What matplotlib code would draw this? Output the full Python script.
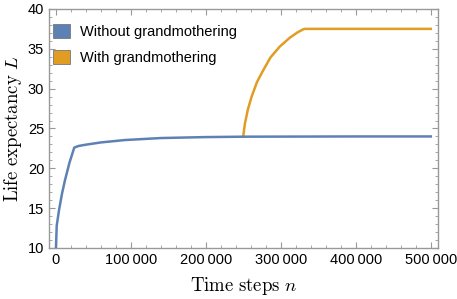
import matplotlib
matplotlib.use("Agg")
import matplotlib.pyplot as plt
from matplotlib.patches import Patch
from matplotlib.ticker import MultipleLocator, FuncFormatter

# values
steps_without = [0, 1000, 4000, 8000, 12000, 18000, 24400, 30000, 38700, 60000, 92000,
                 140000, 200000, 250000, 300000, 400000, 500000]
life_without = [10.0, 12.8, 14.7, 16.8, 18.5, 20.7, 22.6, 22.8, 22.95, 23.25, 23.55,
                23.8, 23.92, 23.97, 23.98, 24.0, 24.0]

steps_with = [249700, 252000, 256000, 261000, 268000, 276400, 286000, 298700, 312000,
              322000, 329800, 332000, 400000, 500000]
life_with = [23.97, 25.6, 27.4, 29.0, 30.8, 32.3, 33.9, 35.3, 36.4, 37.05, 37.45,
             37.5, 37.5, 37.5]

series_labels = ["Without grandmothering", "With grandmothering"]
colors = ["#5E81B5", "#E19C24"]

plt.rcParams["mathtext.fontset"] = "cm"

fig = plt.figure(figsize=(4.57, 2.99), dpi=100)
ax = fig.add_axes([0.1072, 0.1706, 0.8508, 0.7994])

ax.plot(steps_without, life_without, color=colors[0], lw=1.8, zorder=3)
ax.plot(steps_with, life_with, color=colors[1], lw=1.8, zorder=2)

ax.set_xlim(-9300, 509300)
ax.set_ylim(10, 40)

ax.xaxis.set_major_locator(MultipleLocator(100000))
ax.xaxis.set_minor_locator(MultipleLocator(20000))
ax.yaxis.set_major_locator(MultipleLocator(5))
ax.yaxis.set_minor_locator(MultipleLocator(1))
ax.xaxis.set_major_formatter(FuncFormatter(
    lambda v, p: f"{int(v):,}".replace(",", "\u2009")))

for s in ax.spines.values():
    s.set_color("#999999")
    s.set_linewidth(1.0)
ax.tick_params(which="both", direction="in", top=True, right=True, colors="#999999",
               labelcolor="black", labelsize=10.5)
ax.tick_params(which="major", length=4, width=0.8)
ax.tick_params(which="minor", length=2, width=0.6)
for lab in ax.get_xticklabels() + ax.get_yticklabels():
    lab.set_family("Liberation Sans")

# Computer Modern look, like the original
ax.set_xlabel(r"$\mathrm{Time\ steps}\ n$", fontsize=13.5, labelpad=6)
ax.set_ylabel(r"$\mathrm{Life\ expectancy}\ L$", fontsize=13.5, labelpad=3)

handles = [Patch(facecolor=c, edgecolor="#777777", lw=0.6) for c in colors]
ax.legend(handles, series_labels, loc="upper left", frameon=False,
          prop={"family": "Liberation Sans", "size": 10.5},
          handlelength=1.15, handleheight=1.1, handletextpad=0.65, labelspacing=0.75,
          borderaxespad=0.0, borderpad=0.25, bbox_to_anchor=(0.002, 0.953))

fig.savefig("out.png", dpi=100)
